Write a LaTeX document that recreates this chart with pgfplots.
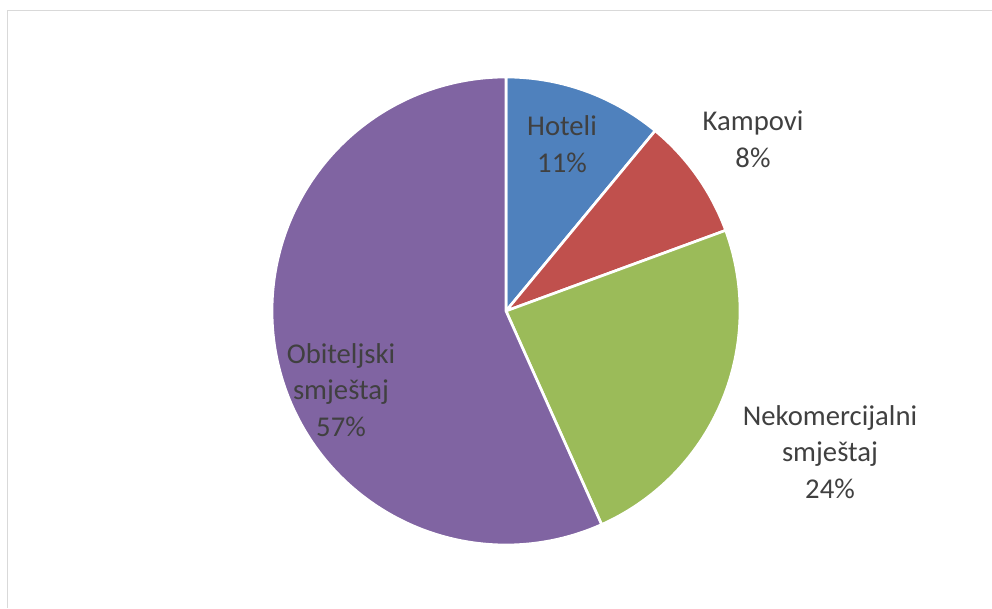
\documentclass[border=0pt]{standalone}
\usepackage{pgfplots}
\pgfplotsset{compat=1.18}
\usepackage{pgfplotstable}
\usepackage{fontspec}
\setmainfont{Carlito}
\definecolor{cHot}{HTML}{4F81BD}
\definecolor{cKam}{HTML}{C0504D}
\definecolor{cNek}{HTML}{9BBB59}
\definecolor{cObi}{HTML}{8064A2}
\definecolor{txt}{HTML}{404040}
\definecolor{frame}{HTML}{D9D9D9}
\tikzset{lbl/.style={font=\fontsize{21.5pt}{27.5pt}\selectfont, text=txt, align=center, inner sep=0pt}}
\pgfplotstableread{
name value
Hoteli 11.0
Kampovi 8.4
Nekomercijalni 23.9
Obiteljski 56.7
}\piedata
\pgfplotstablegetelem{0}{value}\of\piedata \pgfmathsetmacro\vA{\pgfplotsretval}
\pgfplotstablegetelem{1}{value}\of\piedata \pgfmathsetmacro\vB{\pgfplotsretval}
\pgfplotstablegetelem{2}{value}\of\piedata \pgfmathsetmacro\vC{\pgfplotsretval}
\pgfplotstablegetelem{3}{value}\of\piedata \pgfmathsetmacro\vD{\pgfplotsretval}
\pgfmathsetmacro\aA{90}
\pgfmathsetmacro\aB{\aA-3.6*\vA}
\pgfmathsetmacro\aC{\aB-3.6*\vB}
\pgfmathsetmacro\aD{\aC-3.6*\vC}
\pgfmathsetmacro\aE{\aD-3.6*\vD}
\begin{document}
\begin{tikzpicture}
\useasboundingbox (0,0) rectangle (744pt,456pt);
\begin{axis}[
  scale only axis, width=744pt, height=456pt,
  xmin=0, xmax=992, ymin=0, ymax=608,
  hide axis, clip=false,
]
\draw[color=frame, line width=1.1pt] (axis cs:7.5,0) -- (axis cs:7.5,597.5) -- (axis cs:992,597.5);
\addplot[fill=cHot, draw=white, line width=2pt, domain=\aB:\aA, samples=60, variable=\t]
  ({506+234*cos(\t)},{297+234*sin(\t)}) -- (axis cs:506,297) -- cycle;
\addplot[fill=cKam, draw=white, line width=2pt, domain=\aC:\aB, samples=60, variable=\t]
  ({506+234*cos(\t)},{297+234*sin(\t)}) -- (axis cs:506,297) -- cycle;
\addplot[fill=cNek, draw=white, line width=2pt, domain=\aD:\aC, samples=100, variable=\t]
  ({506+234*cos(\t)},{297+234*sin(\t)}) -- (axis cs:506,297) -- cycle;
\addplot[fill=cObi, draw=white, line width=2pt, domain=\aE:\aD, samples=200, variable=\t]
  ({506+234*cos(\t)},{297+234*sin(\t)}) -- (axis cs:506,297) -- cycle;
\node[lbl] at (axis cs:562,464) {Hoteli\\11\%};
\node[lbl] at (axis cs:753,469) {Kampovi\\8\%};
\node[lbl] at (axis cs:830,156) {Nekomercijalni\\smještaj\\24\%};
\node[lbl] at (axis cs:341,218) {Obiteljski\\smještaj\\57\%};
\end{axis}
\end{tikzpicture}
\end{document}
